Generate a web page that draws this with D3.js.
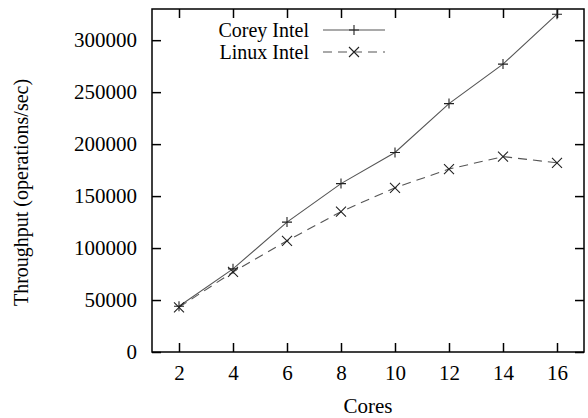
<!DOCTYPE html>
<html><head><meta charset="utf-8">
<script src="https://cdn.jsdelivr.net/npm/d3@7"></script>
<style>body{margin:0;background:#fff}svg{display:block}text{font-family:"Liberation Serif","Times New Roman",serif;fill:#000}</style>
</head><body><svg id="c" width="588" height="418"></svg>
<script>
const cores = [2, 4, 6, 8, 10, 12, 14, 16];
const coreyIntel = [44000, 80000, 125000, 162000, 192000, 239000, 277000, 325000];
const linuxIntel = [43000, 77000, 107000, 135000, 158000, 176000, 188000, 182000];
const yTicks = [0, 50000, 100000, 150000, 200000, 250000, 300000];
const seriesNames = ["Corey Intel", "Linux Intel"];

const svg = d3.select("#c");
const L = 152, R = 584, T = 9, B = 352;
const x = d3.scaleLinear().domain([1, 17]).range([L, R]);
const y = d3.scaleLinear().domain([0, 330000]).range([B, T]);
const tk = 9, fs = 21;

const g = svg.append("g");
const ax = (axis, tx, ty) => {
  const a = g.append("g").attr("transform", `translate(${tx},${ty})`).call(axis);
  a.select(".domain").remove();
  a.selectAll("line").attr("stroke", "#000").attr("stroke-width", 1.5);
  a.selectAll("text").style("font-size", fs + "px").attr("font-family", "Liberation Serif");
  return a;
};
ax(d3.axisBottom(x).tickValues(cores).tickSizeInner(-tk).tickSizeOuter(0).tickPadding(13), 0, B)
  .selectAll("text").attr("dy", "0.71em");
ax(d3.axisTop(x).tickValues(cores).tickSizeInner(-tk).tickSizeOuter(0).tickFormat(""), 0, T);
ax(d3.axisLeft(y).tickValues(yTicks).tickSizeInner(-tk).tickSizeOuter(0).tickPadding(15).tickFormat(d3.format("d")), L, 0);
ax(d3.axisRight(y).tickValues(yTicks).tickSizeInner(-tk).tickSizeOuter(0).tickFormat(""), R, 0);
g.append("rect").attr("x", L).attr("y", T).attr("width", R - L).attr("height", B - T)
  .attr("fill", "none").attr("stroke", "#000").attr("stroke-width", 1.5);

g.append("text").attr("x", (L + R) / 2).attr("y", 413).attr("text-anchor", "middle")
  .style("font-size", fs + "px").text("Cores");
g.append("text").attr("transform", `translate(28,${(T + B) / 2 + 12}) rotate(-90)`)
  .attr("text-anchor", "middle").style("font-size", "20px").text("Throughput (operations/sec)");

const lineCol = "#555";
const line = d3.line().x((d, i) => x(cores[i])).y(d => y(d));
const plus = (sel, cx, cy) => sel.append("path")
  .attr("d", `M${cx - 5},${cy}H${cx + 5}M${cx},${cy - 5}V${cy + 5}`)
  .attr("stroke", "#222").attr("stroke-width", 1.1).attr("fill", "none");
const cross = (sel, cx, cy) => sel.append("path")
  .attr("d", `M${cx - 5},${cy - 5}L${cx + 5},${cy + 5}M${cx - 5},${cy + 5}L${cx + 5},${cy - 5}`)
  .attr("stroke", "#222").attr("stroke-width", 1.1).attr("fill", "none");

g.append("path").datum(coreyIntel).attr("d", line).attr("fill", "none")
  .attr("stroke", lineCol).attr("stroke-width", 1.1);
g.append("path").datum(linuxIntel).attr("d", line).attr("fill", "none")
  .attr("stroke", lineCol).attr("stroke-width", 1.1).attr("stroke-dasharray", "9,6");
coreyIntel.forEach((v, i) => plus(g, x(cores[i]), y(v)));
linuxIntel.forEach((v, i) => cross(g, x(cores[i]), y(v)));

const lg = g.append("g");
const ly = [30, 52];
seriesNames.forEach((n, i) => {
  lg.append("text").attr("x", 309).attr("y", ly[i]).attr("dy", "0.35em").attr("text-anchor", "end")
    .style("font-size", "20px").text(n);
  const p = lg.append("line").attr("x1", 323).attr("x2", 385).attr("y1", ly[i]).attr("y2", ly[i])
    .attr("stroke", lineCol).attr("stroke-width", 1.1);
  if (i === 1) { p.attr("stroke-dasharray", "9,6"); cross(lg, 354, ly[i]); } else plus(lg, 354, ly[i]);
});
</script></body></html>
